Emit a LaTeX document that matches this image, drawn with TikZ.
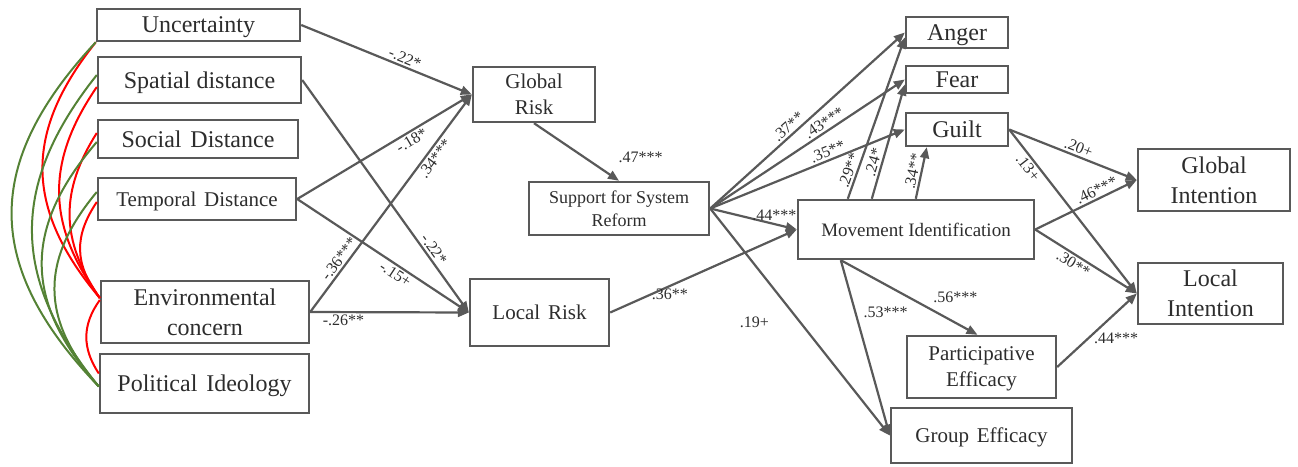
\documentclass[tikz,border=0pt]{standalone}
\usepackage{fontspec}
\setmainfont{Liberation Serif}
\usetikzlibrary{arrows.meta}

\definecolor{edgegray}{RGB}{89,89,89}
\definecolor{ink}{RGB}{45,45,45}
\definecolor{poscov}{RGB}{84,130,53}
\definecolor{negcov}{RGB}{255,0,0}

\newcommand\fxl{\fontsize{24}{30}\selectfont}
\newcommand\flg{\fontsize{21}{26}\selectfont}
\newcommand\fmd{\fontsize{19}{23}\selectfont}
\newcommand\fsm{\fontsize{18}{23}\selectfont}
\newcommand\flbl{\fontsize{16}{18}\selectfont}

\begin{document}
\begin{tikzpicture}[x=1pt,y=-1pt,
  box/.style={draw=edgegray, line width=2.4pt, fill=white, inner sep=0pt,
              align=center, text=ink, text depth=0pt},
  link/.style={draw=edgegray, line width=2.2pt,
               -{Triangle[length=11pt,width=9pt]}},
  lbl/.style={font=\flbl, text=ink, inner sep=2pt},
  negcurve/.style={draw=negcov, line width=2pt},
  poscurve/.style={draw=poscov, line width=2pt}]
\useasboundingbox (0,0) rectangle (1298,466);

% exogenous predictors
\node[box, font=\fxl, minimum width=203pt, minimum height=32pt] (unc) at (198.5,25) {Uncertainty};
\node[box, font=\fxl, minimum width=203pt, minimum height=46pt] (spa) at (199.5,80) {Spatial distance};
\node[box, font=\fxl, minimum width=200pt, minimum height=38pt] (soc) at (198,139) {Social\hspace{0.12em} Distance};
\node[box, font=\flg, minimum width=198pt, minimum height=42pt] (tem) at (197,199) {Temporal\hspace{0.12em} Distance};
\node[box, font=\fxl, minimum width=208pt, minimum height=62pt] (env) at (205,312) {Environmental\\concern};
\node[box, font=\fxl, minimum width=209pt, minimum height=59pt] (pol) at (204.5,383.5) {Political\hspace{0.12em} Ideology};

% risk perceptions and system reform
\node[box, font=\flg, minimum width=122pt, minimum height=55pt] (grisk) at (534,94.5) {Global\\Risk};
\node[box, font=\flg, minimum width=139pt, minimum height=67pt] (lrisk) at (539.5,312.5) {Local\hspace{0.12em} Risk};
\node[box, font=\fsm, minimum width=180pt, minimum height=53pt] (ssr) at (619,208.5) {Support for System\\Reform};

% mediators
\node[box, font=\fmd, minimum width=236pt, minimum height=59pt] (mi) at (916,229.5) {Movement Identification};
\node[box, font=\fxl, minimum width=102pt, minimum height=31pt] (anger) at (957,32.5) {Anger};
\node[box, font=\fxl, minimum width=102pt, minimum height=27pt] (fear) at (957,79.5) {Fear};
\node[box, font=\fxl, minimum width=102pt, minimum height=33pt] (guilt) at (957,129.5) {Guilt};
\node[box, font=\flg, minimum width=149pt, minimum height=62pt] (peff) at (981.5,367) {Participative\\Efficacy};
\node[box, font=\flg, minimum width=181pt, minimum height=55pt] (geff) at (981.5,435.5) {Group\hspace{0.12em} Efficacy};

% outcomes
\node[box, font=\fxl, minimum width=152pt, minimum height=62pt] (gint) at (1214,180) {Global\\Intention};
\node[box, font=\fxl, minimum width=145pt, minimum height=61pt] (lint) at (1210.5,293.5) {Local\\Intention};

% correlations among predictors
\draw[negcurve] (unc.south west) .. controls (24,132) and (24,208) .. ([yshift=14pt]env.west);
\draw[negcurve] ([yshift=-7pt]spa.west) .. controls (46,161) and (46,224) .. ([yshift=14pt]env.west);
\draw[negcurve] ([yshift=6pt]soc.west) .. controls (60,191) and (60,240) .. ([yshift=14pt]env.west);
\draw[negcurve] ([yshift=-3pt]tem.west) .. controls (74,236) and (74,264) .. ([yshift=14pt]env.west);
\draw[negcurve] ([yshift=12pt]env.west) .. controls (82,325) and (82,348) .. ([yshift=10pt]pol.west);
\draw[poscurve] (unc.south west) .. controls (-17,163) and (-17,266) .. ([yshift=-3pt]pol.west);
\draw[poscurve] ([yshift=5pt]spa.west) .. controls (10,184) and (10,278) .. ([yshift=-3pt]pol.west);
\draw[poscurve] ([yshift=-3pt]soc.west) .. controls (23,228) and (23,301) .. ([yshift=-3pt]pol.west);
\draw[poscurve] ([yshift=7pt]tem.west) .. controls (40,260) and (40,319) .. ([yshift=-3pt]pol.west);

% paths to risk perceptions
\draw[link] (unc.east) -- node[lbl, sloped, above, pos=0.59] {-.22*} (grisk.west);
\draw[link] (spa.east) -- node[lbl, sloped, above, pos=0.75] {-.22*} (lrisk.west);
\draw[link] (tem.east) -- node[lbl, sloped, below, pos=0.63] {-.18*} (grisk.west);
\draw[link] (tem.east) -- node[lbl, sloped, below, pos=0.6] {-.15+} (lrisk.west);
\draw[link] (env.east) -- node[lbl, sloped, above, pos=0.22] {-.36***}
                          node[lbl, sloped, below, pos=0.73] {.34***} (grisk.west);
\draw[link] (env.east) -- node[lbl, below, pos=0.21] {-.26**} (lrisk.west);

% risk to reform and identification
\draw[link] (grisk.south) -- node[lbl, pos=0.7, anchor=west, xshift=22pt, yshift=6pt] {.47***} (ssr.north);
\draw[link] (lrisk.east) -- node[lbl, below, pos=0.32] {.36**} (mi.west);

% support for system reform to mediators
\draw[link] (ssr.east) -- node[lbl, sloped, above, pos=0.43] {.37**} (anger.west);
\draw[link] (ssr.east) -- node[lbl, sloped, above, pos=0.61] {.43***} (fear.west);
\draw[link] (ssr.east) -- node[lbl, sloped, above, pos=0.62] {.35**} (guilt.west);
\draw[link] (ssr.east) -- node[lbl, above, pos=0.74] {.44***} (mi.west);
\draw[link] (ssr.east) -- node[lbl, pos=0.5, left=28pt] {.19+} (geff.west);

% movement identification to emotions and efficacy
\draw[link] ([xshift=51pt]mi.north west) -- node[lbl, sloped, above, pos=0.16] {.29**} ([yshift=-5pt]anger.west);
\draw[link] ([xshift=75pt]mi.north west) -- node[lbl, sloped, above, pos=0.3] {.24*} ([yshift=-5pt]fear.west);
\draw[link] ([xshift=119pt]mi.north west) -- node[lbl, sloped, above, pos=0.5] {.34**} ([xshift=22pt]guilt.south west);
\draw[link] ([xshift=44pt]mi.south west) -- node[lbl, pos=0.5, anchor=west, xshift=21pt] {.56***} ([xshift=-4pt]peff.north);
\draw[link] ([xshift=44pt]mi.south west) -- node[lbl, pos=0.3, anchor=west, xshift=5pt] {.53***} (geff.west);

% paths to intentions
\draw[link] (guilt.east) -- node[lbl, sloped, above, pos=0.52] {.20+} (gint.west);
\draw[link] (guilt.east) -- node[lbl, sloped, below, pos=0.2] {.13+} (lint.west);
\draw[link] (mi.east) -- node[lbl, sloped, above, pos=0.64] {.46***} (gint.west);
\draw[link] (mi.east) -- node[lbl, sloped, below, pos=0.42] {.30**} (lint.west);
\draw[link] (peff.east) -- node[lbl, pos=0.5, anchor=north west, xshift=-6pt] {.44***} (lint.west);
\end{tikzpicture}
\end{document}
